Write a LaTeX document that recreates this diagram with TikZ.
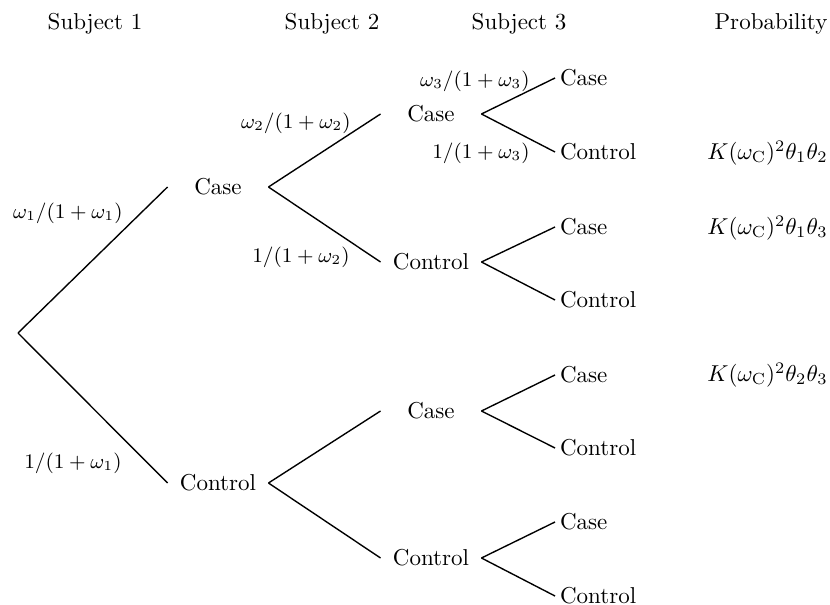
\documentclass[tikz,border=0pt]{standalone}
\begin{document}
\begin{tikzpicture}[x=0.435pt,y=-0.435pt,
  hdr/.style={anchor=base,inner sep=0pt},
  mid/.style={minimum width=43.5pt,inner sep=0pt},
  leaf/.style={anchor=west,inner xsep=2pt,inner ysep=0pt},
  lab/.style={anchor=east,inner sep=0pt,font=\small},
  prob/.style={anchor=west,inner sep=0pt},
  edge/.style={line width=0.6pt}]
\useasboundingbox (0,0) rectangle (830,605);
% headers
\node[hdr] (h1) at (95,30) {Subject 1};
\node[hdr] (h2) at (332,30) {Subject 2};
\node[hdr] (h3) at (519,30) {Subject 3};
\node[hdr] (h4) at (771,30) {Probability};
% tree
\coordinate (r) at (18,333);
\node[mid] (a) at (218,187) {Case};
\node[mid] (b) at (218,483) {Control};
\node[mid] (aa) at (431,114) {Case};
\node[mid] (ab) at (431,262) {Control};
\node[mid] (ba) at (431,411) {Case};
\node[mid] (bb) at (431,558) {Control};
\node[leaf] (l1) at (555,78) {Case};
\node[leaf] (l2) at (555,152) {Control};
\node[leaf] (l3) at (555,227) {Case};
\node[leaf] (l4) at (555,300) {Control};
\node[leaf] (l5) at (555,375) {Case};
\node[leaf] (l6) at (555,448) {Control};
\node[leaf] (l7) at (555,522) {Case};
\node[leaf] (l8) at (555,596) {Control};
% labels
\node[lab] (p1) at (123,213) {$\omega_1/(1+\omega_1)$};
\node[lab] (q1) at (122,463) {$1/(1+\omega_1)$};
\node[lab] (p2) at (351,123) {$\omega_2/(1+\omega_2)$};
\node[lab] (q2) at (350,257) {$1/(1+\omega_2)$};
\node[lab] (p3) at (530,81) {$\omega_3/(1+\omega_3)$};
\node[lab] (q3) at (530,153) {$1/(1+\omega_3)$};
% probabilities
\node[prob] (k1) at (707,153) {$K(\omega_{\mathrm{C}})^2\theta_1\theta_2$};
\node[prob] (k2) at (707,228) {$K(\omega_{\mathrm{C}})^2\theta_1\theta_3$};
\node[prob] (k3) at (707,375) {$K(\omega_{\mathrm{C}})^2\theta_2\theta_3$};
% edges
\draw[edge] (r) -- (a.west);
\draw[edge] (r) -- (b.west);
\draw[edge] (a.east) -- (aa.west);
\draw[edge] (a.east) -- (ab.west);
\draw[edge] (b.east) -- (ba.west);
\draw[edge] (b.east) -- (bb.west);
\draw[edge] (aa.east) -- (l1.west);
\draw[edge] (aa.east) -- (l2.west);
\draw[edge] (ab.east) -- (l3.west);
\draw[edge] (ab.east) -- (l4.west);
\draw[edge] (ba.east) -- (l5.west);
\draw[edge] (ba.east) -- (l6.west);
\draw[edge] (bb.east) -- (l7.west);
\draw[edge] (bb.east) -- (l8.west);
\end{tikzpicture}
\end{document}
